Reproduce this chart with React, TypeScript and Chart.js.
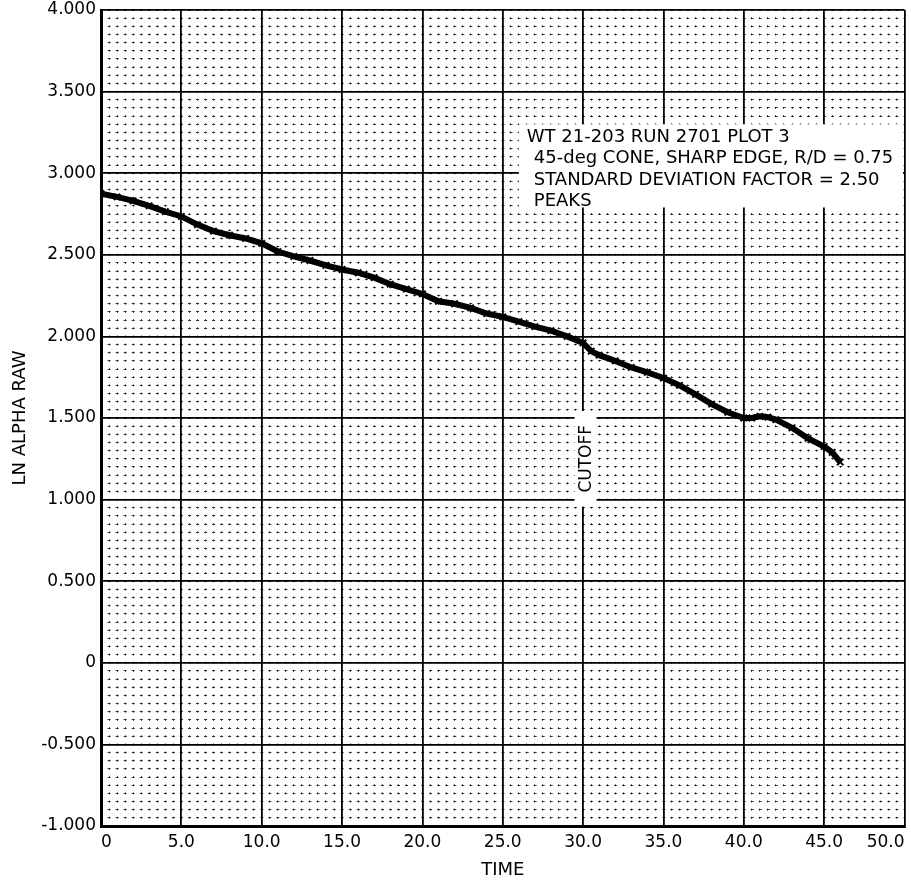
import { useEffect, useRef } from 'react';
import { Chart, registerables } from 'chart.js';

Chart.register(...registerables);

// ---- data ----
const timeValues = [
  0, 1, 2, 3, 4, 5, 6, 7, 8, 9, 10, 11, 12, 13, 14, 15, 16, 17, 18, 19, 20,
  21, 22, 23, 24, 25, 26, 27, 28, 29, 30, 30.5, 31, 32, 33, 34, 35, 36, 37, 38,
  39, 40, 40.5, 41, 41.5, 42, 43, 44, 45, 45.5, 46,
];
const lnAlphaRaw = [
  2.875, 2.855, 2.83, 2.8, 2.765, 2.735, 2.685, 2.645, 2.62, 2.6, 2.57, 2.52,
  2.49, 2.465, 2.435, 2.41, 2.39, 2.36, 2.32, 2.29, 2.26, 2.215, 2.2, 2.175,
  2.14, 2.12, 2.09, 2.06, 2.035, 2.0, 1.96, 1.91, 1.885, 1.85, 1.81, 1.78,
  1.745, 1.7, 1.645, 1.585, 1.535, 1.5, 1.5, 1.51, 1.505, 1.49, 1.44, 1.375,
  1.325, 1.29, 1.23,
];

const xMin = 0;
const xMax = 50;
const xMajorStep = 5;
const xMinorStep = 0.5;
const yMin = -1;
const yMax = 4;
const yMajorStep = 0.5;
const yMinorStep = 0.05;

const xTitle = 'TIME';
const yTitle = 'LN ALPHA RAW';
const noteLines = [
  'WT 21-203 RUN 2701 PLOT 3',
  '45-deg CONE, SHARP EDGE, R/D = 0.75',
  'STANDARD DEVIATION FACTOR = 2.50',
  'PEAKS',
];
const cutoffLabel = 'CUTOFF';
const cutoffTime = 30.15;
const cutoffLevel = 1.25;
const noteBoxLeftTime = 26;
const noteBoxTop = 3.3;
const noteBoxBottom = 2.79;

const FONT = '"DejaVu Sans", sans-serif';

const notesPlugin = {
  id: 'notesPlugin',
  afterDatasetsDraw(chart: any) {
    const { ctx, chartArea, scales } = chart;
    const xs = scales.x;
    const ys = scales.y;
    ctx.save();
    // annotation box
    const left = xs.getPixelForValue(noteBoxLeftTime);
    const right = chartArea.right - 1.5;
    const top = ys.getPixelForValue(noteBoxTop);
    const bottom = ys.getPixelForValue(noteBoxBottom);
    ctx.fillStyle = '#ffffff';
    ctx.fillRect(left, top, right - left, bottom - top);
    ctx.fillStyle = '#000000';
    ctx.font = `18px ${FONT}`;
    ctx.textBaseline = 'middle';
    ctx.textAlign = 'left';
    const offs = [13, 34.5, 56, 77.5];
    noteLines.forEach((t, i) => {
      ctx.fillText(t, left + (i === 0 ? 8 : 15), top + offs[i]);
    });
    // cutoff label
    const cx = xs.getPixelForValue(cutoffTime);
    const cy = ys.getPixelForValue(cutoffLevel);
    ctx.font = `17px ${FONT}`;
    const w = ctx.measureText(cutoffLabel).width;
    ctx.fillStyle = '#ffffff';
    ctx.fillRect(cx - 11, cy - w / 2 - 14, 22, w + 28);
    ctx.translate(cx, cy);
    ctx.rotate(-Math.PI / 2);
    ctx.fillStyle = '#000000';
    ctx.textAlign = 'center';
    ctx.textBaseline = 'middle';
    ctx.fillText(cutoffLabel, 0, 1);
    ctx.restore();
  },
};

export default function App() {
  const canvasRef = useRef<HTMLCanvasElement | null>(null);

  useEffect(() => {
    if (!canvasRef.current) return;
    const points = timeValues.map((t, i) => ({ x: t, y: lnAlphaRaw[i] }));
    const chart = new Chart(canvasRef.current, {
      type: 'scatter',
      data: {
        datasets: [
          {
            data: points,
            xAxisID: 'x',
            yAxisID: 'y',
            showLine: true,
            borderColor: '#000000',
            borderWidth: 6,
            pointStyle: 'crossRot',
            pointRadius: 4.5,
            pointBorderWidth: 2,
            pointBorderColor: '#000000',
            pointBackgroundColor: '#000000',
            tension: 0,
          },
        ],
      },
      options: {
        responsive: true,
        maintainAspectRatio: false,
        animation: false,
        layout: { padding: { top: 10, right: 6, bottom: 0, left: 0 } },
        plugins: {
          legend: { display: false },
          tooltip: { enabled: false },
          title: { display: false },
        },
        scales: {
          xMinor: {
            type: 'linear',
            axis: 'x',
            position: 'bottom',
            min: xMin,
            max: xMax,
            ticks: { display: false, stepSize: xMinorStep },
            grid: { color: 'rgba(0,0,0,0.7)', lineWidth: 1, drawTicks: false },
            border: { display: false, dash: [2, 6.16], dashOffset: 1 },
            afterFit: (s: any) => {
              s.height = 0;
              s.paddingLeft = 0;
              s.paddingRight = 0;
            },
          },
          yMinor: {
            type: 'linear',
            axis: 'y',
            position: 'left',
            min: yMin,
            max: yMax,
            ticks: { display: false, stepSize: yMinorStep },
            grid: { color: 'rgba(0,0,0,0.75)', lineWidth: 1, drawTicks: false },
            border: { display: false, dash: [3, 5.04], dashOffset: 1.5 },
            afterFit: (s: any) => {
              s.width = 0;
              s.paddingTop = 0;
              s.paddingBottom = 0;
            },
          },
          x: {
            type: 'linear',
            position: 'bottom',
            min: xMin,
            max: xMax,
            ticks: {
              stepSize: xMajorStep,
              align: 'inner',
              padding: 6,
              color: '#000000',
              font: { family: FONT, size: 17 },
              callback: (v: any) => (Number(v) === 0 ? '0' : Number(v).toFixed(1)),
            },
            grid: { color: '#000000', lineWidth: 1.8, drawTicks: false },
            border: { display: true, color: '#000000', width: 3 },
            title: {
              display: true,
              text: xTitle,
              color: '#000000',
              font: { family: FONT, size: 18 },
              padding: { top: 0, bottom: 2 },
            },
            afterFit: (s: any) => {
              s.height = 57;
              s.paddingLeft = 0;
              s.paddingRight = 0;
            },
          },
          y: {
            type: 'linear',
            position: 'left',
            min: yMin,
            max: yMax,
            ticks: {
              stepSize: yMajorStep,
              padding: 5,
              color: '#000000',
              font: { family: FONT, size: 17 },
              callback: (v: any) => (Number(v) === 0 ? '0' : Number(v).toFixed(3)),
            },
            grid: { color: '#000000', lineWidth: 1.8, drawTicks: false },
            border: { display: true, color: '#000000', width: 3 },
            title: {
              display: true,
              text: yTitle,
              color: '#000000',
              font: { family: FONT, size: 18 },
              padding: { top: 10, bottom: 0 },
            },
            afterFit: (s: any) => {
              s.width = 101;
              s.paddingTop = 0;
              s.paddingBottom = 0;
            },
          },
        },
      },
      plugins: [notesPlugin],
    } as any);
    return () => chart.destroy();
  }, []);

  return (
    <div
      style={{
        position: 'absolute',
        left: 0,
        top: 0,
        width: '911px',
        height: '883px',
        background: '#ffffff',
      }}
    >
      <canvas ref={canvasRef} />
    </div>
  );
}
